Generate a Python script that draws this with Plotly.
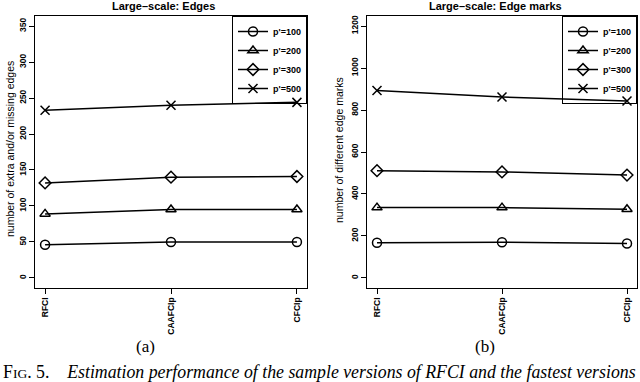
import plotly.graph_objects as go

# ---- data ----
methods = ["RFCI", "CAAFCIp", "CFCIp"]
series_names = ["p'=100", "p'=200", "p'=300", "p'=500"]

edges_p100 = [46, 50, 50]
edges_p200 = [89, 95, 95]
edges_p300 = [132, 140, 141]
edges_p500 = [233, 240, 244]

marks_p100 = [168, 170, 164]
marks_p200 = [335, 335, 327]
marks_p300 = [511, 505, 490]
marks_p500 = [893, 862, 843]

edges_yticks = [0, 50, 100, 150, 200, 250, 300, 350]
marks_yticks = [0, 200, 400, 600, 800, 1000, 1200]

title_a = "Large\u2013scale: Edges"
title_b = "Large\u2013scale: Edge marks"
ytitle_a = "number of extra and/or missing edges"
ytitle_b = "number of different edge marks"

symbols = ["circle-open", "triangle-up-open", "diamond-open", "x-thin-open"]

W, H = 640, 382
SANS = "Liberation Sans, Arial, sans-serif"
SERIF = "Liberation Serif, Times New Roman, serif"

fig = go.Figure()
xpos = list(range(len(methods)))

edges = [edges_p100, edges_p200, edges_p300, edges_p500]
marks = [marks_p100, marks_p200, marks_p300, marks_p500]

for name, vals, sym in zip(series_names, edges, symbols):
    fig.add_trace(go.Scatter(
        x=xpos, y=vals, name=name, mode="lines+markers",
        line=dict(color="black", width=1.5),
        marker=dict(symbol=sym, size=9, color="black", line=dict(width=1.5, color="black")),
        xaxis="x", yaxis="y", legend="legend"))

for name, vals, sym in zip(series_names, marks, symbols):
    fig.add_trace(go.Scatter(
        x=xpos, y=vals, name=name, mode="lines+markers",
        line=dict(color="black", width=1.5),
        marker=dict(symbol=sym, size=9, color="black", line=dict(width=1.5, color="black")),
        xaxis="x2", yaxis="y2", legend="legend2"))

def px(xp):
    return xp / W

def py(yp):
    return 1 - yp / H

ydom = [py(288), py(16)]
xdom1 = [px(35), px(307)]
xdom2 = [px(367), px(637)]

axis_common = dict(showline=True, linecolor="black", linewidth=1, mirror=True,
                   ticks="outside", ticklen=5, tickcolor="black", tickwidth=1,
                   showgrid=False, zeroline=False,
                   tickfont=dict(family=SANS, size=8.5, color="black", weight="bold"),
                   automargin=False)

xa = dict(axis_common, tickvals=xpos, ticktext=methods, range=[-0.08, 2.08], tickangle=-90)
leg_common = dict(y=ydom[1], yanchor="top", xanchor="right",
                  bordercolor="black", borderwidth=1, bgcolor="rgba(255,255,255,0)",
                  font=dict(family=SANS, size=9, color="black", weight="bold"),
                  itemwidth=30, tracegroupgap=0)
fig.update_layout(
    width=W, height=H,
    margin=dict(l=0, r=0, t=0, b=0),
    paper_bgcolor="white", plot_bgcolor="white",
    xaxis=dict(xa, domain=xdom1, anchor="y"),
    yaxis=dict(axis_common, domain=ydom, anchor="x", range=[-14, 364],
               tickvals=edges_yticks, tickangle=-90),
    xaxis2=dict(xa, domain=xdom2, anchor="y2"),
    yaxis2=dict(axis_common, domain=ydom, anchor="x2", range=[-48, 1248],
                tickvals=marks_yticks, tickangle=-90),
    legend=dict(leg_common, x=xdom1[1]),
    legend2=dict(leg_common, x=xdom2[1]),
    showlegend=True,
)

def label(text, x, y, size, family=SANS, angle=0, **kw):
    d = dict(text=text, x=px(x), y=py(y), xref="paper", yref="paper",
             xanchor="center", yanchor="middle", showarrow=False, textangle=angle,
             font=dict(family=family, size=size, color="black"))
    d.update(kw)
    return d

ann = [
    label("<b>" + title_a + "</b>", 163, 6, 11),
    label("<b>" + title_b + "</b>", 495, 6, 11),
    label(ytitle_a, 10, 149, 10.5, angle=-90),
    label(ytitle_b, 339, 150, 10.5, angle=-90),
    label("(a)", 145, 346, 17, family=SERIF),
    label("(b)", 485, 346, 17, family=SERIF),
]
cap = ("F<span style='font-size:13.5px'>IG</span>. 5.&nbsp;&nbsp;&nbsp;&nbsp;"
       "<i>Estimation performance of the sample versions of RFCI and the fastest versions</i>")
ann.append(dict(text=cap, x=px(1), y=py(360), xref="paper", yref="paper", xanchor="left",
                yanchor="top", showarrow=False, align="left",
                font=dict(family=SERIF, size=17.8, color="black")))
fig.update_layout(annotations=ann)

fig.write_html("out.html", config={"displayModeBar": False},
               post_script="document.body.style.margin='0';")
